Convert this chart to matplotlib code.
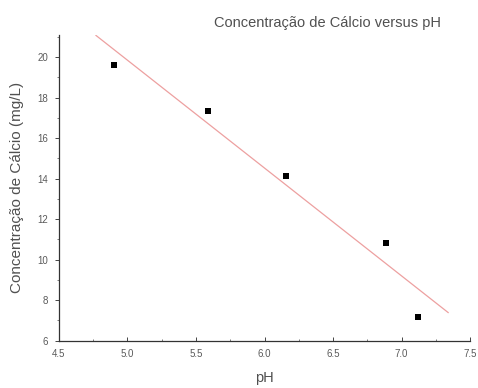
import matplotlib

matplotlib.use("Agg")

import matplotlib.pyplot as plt
import numpy as np
from matplotlib.ticker import MultipleLocator

ph = [4.90, 5.59, 6.16, 6.89, 7.12]
calcio = [19.64, 17.36, 14.11, 10.81, 7.18]
fit_range = [4.77, 7.34]

plt.rcParams["font.family"] = ["Liberation Sans", "DejaVu Sans"]

fig = plt.figure(figsize=(4.78, 3.88), dpi=100)
ax = fig.add_axes([0.1234, 0.1224, 0.86, 0.7874])

slope, intercept = np.polyfit(ph, calcio, 1)
xf = np.array(fit_range)
ax.plot(xf, slope * xf + intercept, color="#eda0a0", lw=0.9)
ax.scatter(ph, calcio, marker="s", s=13, color="black", linewidths=0, zorder=3)

ax.set_xlim(4.5, 7.5)
ax.set_ylim(6, 21.1)
ax.xaxis.set_major_locator(MultipleLocator(0.5))
ax.xaxis.set_minor_locator(MultipleLocator(0.25))
ax.yaxis.set_major_locator(MultipleLocator(2))
ax.yaxis.set_minor_locator(MultipleLocator(1))
ax.xaxis.set_major_formatter(plt.FuncFormatter(lambda v, p: f"{v:.1f}"))

for side in ("top", "right"):
    ax.spines[side].set_visible(False)
for side in ("left", "bottom"):
    ax.spines[side].set_color("#333333")
    ax.spines[side].set_linewidth(0.9)

ax.tick_params(axis="both", which="major", labelsize=7, colors="#444444",
               labelcolor="#5a5a5a", length=3, width=0.7)
ax.tick_params(axis="both", which="minor", length=1.8, width=0.6, colors="#666666")
ax.tick_params(axis="x", which="both", direction="in", pad=6)
ax.tick_params(axis="y", which="major", pad=5)

ax.set_xlabel("pH", fontsize=10.5, color="#505050", labelpad=9)
ax.set_ylabel("Concentração de Cálcio (mg/L)", fontsize=11, color="#505050", labelpad=9)
fig.text(0.685, 0.94, "Concentração de Cálcio versus pH", fontsize=10.5,
         color="#505050", ha="center", va="center")

fig.savefig("out.png", dpi=100)
plt.close(fig)
